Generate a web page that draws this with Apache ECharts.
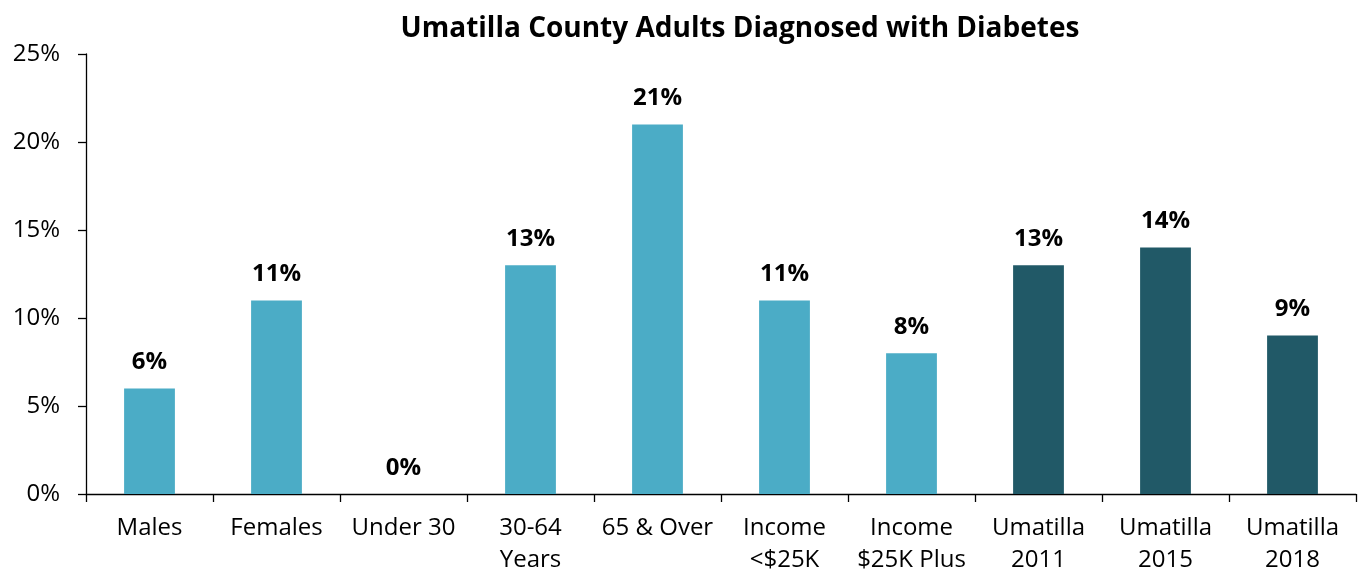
<!DOCTYPE html>
<html>
<head>
<meta charset="utf-8">
<script src="https://cdn.jsdelivr.net/npm/echarts@6/dist/echarts.min.js"></script>
<style>
  html, body { margin: 0; padding: 0; background: #fff; overflow: hidden; }
  #chart { width: 1359px; height: 576px; }
</style>
</head>
<body>
<div id="chart"></div>
<script>
// Share of adults diagnosed with diabetes, by group
const categories = ['Males', 'Females', 'Under 30', '30-64\nYears', '65 & Over',
  'Income\n<$25K', 'Income\n$25K Plus', 'Umatilla\n2011', 'Umatilla\n2015', 'Umatilla\n2018'];
const values = [6, 11, 0, 13, 21, 11, 8, 13, 14, 9];
// groups: 'sub' = subgroup breakdown, 'year' = county total by survey year
const groups = ['sub', 'sub', 'sub', 'sub', 'sub', 'sub', 'sub', 'year', 'year', 'year'];
const yTicks = [0, 5, 10, 15, 20, 25];

const groupColor = { sub: '#4BACC6', year: '#215967' };
const font = '"Open Sans", "Noto Sans", sans-serif';

const chart = echarts.init(document.getElementById('chart'));
chart.setOption({
  animation: false,
  title: {
    text: 'Umatilla County Adults Diagnosed with Diabetes',
    left: 735, top: 10, textAlign: 'center',
    textStyle: { fontFamily: font, fontSize: 28, fontWeight: 'bold', color: '#000' }
  },
  grid: { left: 86, width: 1270, top: 54, height: 445, containLabel: false },
  xAxis: {
    type: 'category',
    data: categories,
    axisLine: { lineStyle: { color: '#000', width: 1.3 } },
    axisTick: { show: true, length: 8, lineStyle: { color: '#000', width: 1.3 } },
    axisLabel: { color: '#000', fontFamily: font, fontSize: 24, lineHeight: 32, margin: 18, interval: 0 }
  },
  yAxis: {
    type: 'value',
    min: yTicks[0], max: yTicks[yTicks.length - 1], interval: 5,
    splitLine: { show: false },
    axisLine: { show: true, lineStyle: { color: '#000', width: 1.3 } },
    axisTick: { show: true, length: 8, lineStyle: { color: '#000', width: 1.3 } },
    axisLabel: { color: '#000', fontFamily: font, fontSize: 24, margin: 26, formatter: v => v + '%' }
  },
  series: [{
    type: 'bar',
    barWidth: '40%',
    data: values.map((v, i) => ({ value: v, itemStyle: { color: groupColor[groups[i]] } })),
    label: {
      show: true, position: 'top', distance: 14,
      color: '#000', fontFamily: font, fontSize: 24, fontWeight: 'bold',
      formatter: p => p.value + '%'
    }
  }]
});
</script>
</body>
</html>
